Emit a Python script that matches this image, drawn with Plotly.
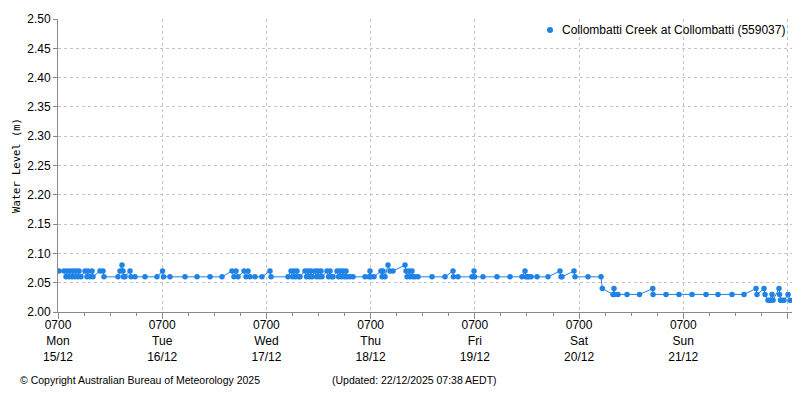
import plotly.graph_objects as go
import pandas as pd

# ---- data ----
start_time = "2025-12-15 07:00"
end_offset_hours = 169.04

# hours after 07:00 Mon 15/12
hours = [
    0.23, 1.38, 1.84, 2.07, 2.53, 2.76, 3.22, 3.45, 3.92, 4.15, 4.61, 4.84, 5.30,
    6.22, 6.68, 6.91, 7.37, 7.83, 8.06, 9.67, 10.36, 10.59,
    13.82, 14.28, 14.74, 14.97, 15.09, 15.43, 16.58, 16.81, 17.73,
    20.04, 22.80, 24.07, 24.30, 25.79, 29.25, 32.01, 35.01, 37.77,
    40.07, 40.53, 40.99, 41.46, 42.84, 43.30, 43.76, 44.22, 45.37,
    46.98, 48.82, 49.06, 52.97,
    53.66, 54.01, 54.35, 54.70, 55.04, 55.39, 55.73,
    56.88, 57.23, 57.58, 57.92, 58.27, 58.50,
    59.19, 59.54, 59.88, 60.23, 60.57, 60.80,
    61.95, 62.30, 62.65, 62.99, 63.34,
    64.26, 64.61, 64.95, 65.30, 65.64, 65.99, 66.33, 66.56,
    67.25, 67.94, 70.70, 71.62, 71.85, 72.08, 72.78,
    74.39, 74.62, 74.85, 75.31, 76.00, 76.46, 77.15,
    79.92, 80.15, 80.38, 80.84, 81.07, 81.53, 81.76, 82.22, 82.91,
    86.14, 89.13, 90.97, 91.08, 92.12, 95.34, 95.80, 95.92, 97.88,
    101.10, 104.10, 106.86, 107.55, 107.78, 108.13, 108.47, 108.94,
    110.32, 112.85, 115.61, 115.84, 116.07, 118.84, 119.07, 122.06, 125.06,
    125.36, 127.82, 128.05, 128.17, 128.97, 131.05, 133.92, 136.97, 137.04,
    140.03, 143.02, 146.02, 149.24, 152.00, 155.23, 157.99,
    160.75, 160.98, 162.59, 162.82, 163.52, 163.98, 164.44, 164.67,
    166.05, 166.17, 166.40, 166.74, 167.20, 168.13, 168.59,
]
levels = [
    2.07, 2.07, 2.06, 2.07, 2.06, 2.07, 2.06, 2.07, 2.06, 2.07, 2.06, 2.07, 2.06,
    2.07, 2.06, 2.07, 2.06, 2.07, 2.06, 2.07, 2.07, 2.06,
    2.06, 2.07, 2.08, 2.07, 2.06, 2.06, 2.07, 2.06, 2.06,
    2.06, 2.06, 2.07, 2.06, 2.06, 2.06, 2.06, 2.06, 2.06,
    2.07, 2.06, 2.07, 2.06, 2.07, 2.06, 2.07, 2.06, 2.06,
    2.06, 2.07, 2.06, 2.06,
    2.07, 2.06, 2.07, 2.06, 2.07, 2.06, 2.06,
    2.07, 2.06, 2.07, 2.06, 2.07, 2.06,
    2.07, 2.06, 2.07, 2.06, 2.07, 2.06,
    2.07, 2.06, 2.07, 2.06, 2.06,
    2.07, 2.06, 2.07, 2.06, 2.07, 2.06, 2.07, 2.06,
    2.06, 2.06, 2.06, 2.06, 2.07, 2.06, 2.06,
    2.07, 2.06, 2.07, 2.06, 2.08, 2.07, 2.07,
    2.08, 2.07, 2.06, 2.07, 2.06, 2.07, 2.06, 2.06, 2.06,
    2.06, 2.06, 2.07, 2.06, 2.06, 2.06, 2.07, 2.06, 2.06,
    2.06, 2.06, 2.06, 2.07, 2.06, 2.06, 2.06, 2.06,
    2.06, 2.06, 2.07, 2.06, 2.06, 2.07, 2.06, 2.06, 2.06,
    2.04, 2.03, 2.04, 2.03, 2.03, 2.03, 2.03, 2.04, 2.03,
    2.03, 2.03, 2.03, 2.03, 2.03, 2.03, 2.03,
    2.04, 2.03, 2.04, 2.03, 2.02, 2.02, 2.03, 2.02,
    2.04, 2.03, 2.02, 2.02, 2.02, 2.03, 2.02,
]

series_name = "Collombatti Creek at Collombatti (559037)"
tick_times = ["0700", "0700", "0700", "0700", "0700", "0700", "0700", ""]
tick_days = ["Mon", "Tue", "Wed", "Thu", "Fri", "Sat", "Sun", ""]
tick_dates = ["15/12", "16/12", "17/12", "18/12", "19/12", "20/12", "21/12", ""]
y_ticks = [2.00, 2.05, 2.10, 2.15, 2.20, 2.25, 2.30, 2.35, 2.40, 2.45, 2.50]
copyright_text = "© Copyright Australian Bureau of Meteorology 2025"
updated_text = "(Updated: 22/12/2025 07:38 AEDT)"
y_title = "Water Level (m)"

# ---- build ----
t0 = pd.Timestamp(start_time)
times = [t0 + pd.Timedelta(hours=h) for h in hours]
tick_vals = [t0 + pd.Timedelta(days=i) for i in range(len(tick_days))]
tick_text = [
    (f"{a}<br>{b}<br>{c}" if a else "") for a, b, c in zip(tick_times, tick_days, tick_dates)
]
minor_vals = [t0 + pd.Timedelta(hours=6 * k) for k in range(1, 29) if k % 4 != 0]
x_end = t0 + pd.Timedelta(hours=end_offset_hours)

blue = "#1e82e6"
grid = "#c4c4c4"
axis_col = "#8a8a8a"
font_main = "Liberation Sans"

# the page body has an 8px margin; size the figure so the plot lands where the reference has it
fig = go.Figure()
fig.add_trace(go.Scatter(
    x=times, y=levels, mode="lines+markers", name=series_name,
    line=dict(color=blue, width=1),
    marker=dict(color=blue, size=5.5),
    showlegend=False,
))

leg_x, leg_y = 0.6703, 0.9625
fig.update_layout(
    width=792, height=392,
    margin=dict(l=50, r=8, t=11, b=88, autoexpand=False),
    paper_bgcolor="white", plot_bgcolor="white",
    font=dict(family=font_main, size=12, color="black"),
    showlegend=False,
    xaxis=dict(
        type="date", range=[t0, x_end], automargin=False,
        tickmode="array", tickvals=tick_vals, ticktext=tick_text,
        ticks="outside", ticklen=6, tickcolor=axis_col,
        ticklabelstandoff=-4,
        showline=True, linecolor=axis_col, linewidth=1,
        showgrid=True, gridcolor=grid, griddash="3px,3px", gridwidth=1,
        zeroline=False,
        tickfont=dict(family=font_main, size=12),
        minor=dict(tickmode="array", tickvals=minor_vals, ticks="outside",
                   ticklen=3, tickcolor=axis_col, showgrid=False),
    ),
    yaxis=dict(
        range=[2.0, 2.5], tickmode="array", tickvals=y_ticks, automargin=False,
        tickformat=".2f",
        ticks="outside", ticklen=4, tickcolor=axis_col,
        showline=True, linecolor=axis_col, linewidth=1, mirror=True,
        showgrid=True, gridcolor=grid, griddash="3px,3px", gridwidth=1,
        zeroline=False,
        tickfont=dict(family=font_main, size=12),
        title=dict(text=y_title, font=dict(family="DejaVu Sans Mono", size=10.5), standoff=4),
    ),
    shapes=[
        dict(type="circle", xref="paper", yref="paper", xsizemode="pixel", ysizemode="pixel",
             xanchor=leg_x, yanchor=leg_y, x0=-3, x1=3, y0=-3, y1=3,
             fillcolor=blue, line=dict(width=0)),
    ],
    annotations=[
        dict(text=series_name, xref="paper", yref="paper", x=0.6839, y=leg_y,
             xanchor="left", yanchor="middle", showarrow=False,
             font=dict(family=font_main, size=12)),
        dict(text=copyright_text, xref="paper", yref="paper", x=-0.054, y=-0.232,
             xanchor="left", yanchor="middle", showarrow=False,
             font=dict(family=font_main, size=10.5)),
        dict(text=updated_text, xref="paper", yref="paper", x=0.371, y=-0.232,
             xanchor="left", yanchor="middle", showarrow=False,
             font=dict(family=font_main, size=10.5)),
    ],
)

fig.write_html("out.html")
